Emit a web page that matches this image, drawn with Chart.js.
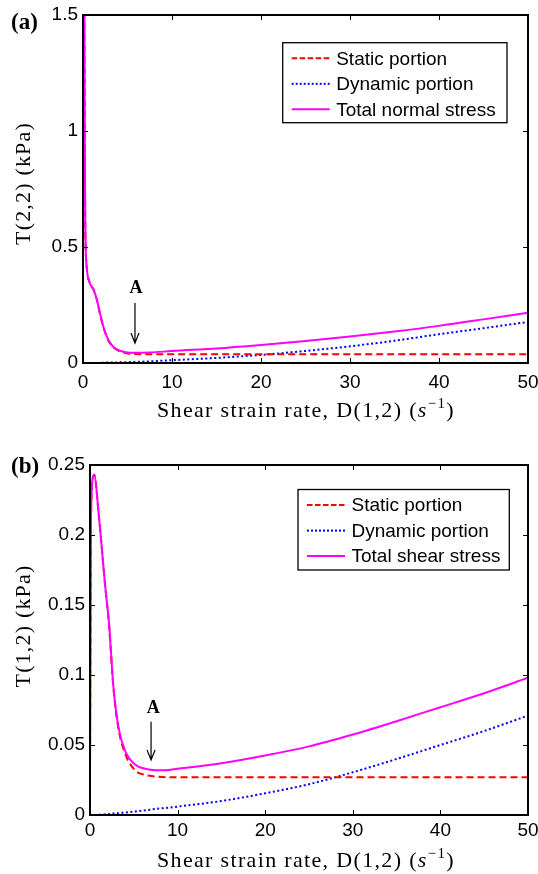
<!DOCTYPE html>
<html><head><meta charset="utf-8">
<script src="https://cdn.jsdelivr.net/npm/chart.js@4.4.0/dist/chart.umd.min.js"></script>
<style>
html,body{margin:0;padding:0;background:#fff;}
#wrap{position:relative;width:538px;height:874px;overflow:hidden;}
canvas{position:absolute;left:0;}
</style></head><body>
<div id="wrap">
<canvas id="ca" width="538" height="437" style="top:0px"></canvas>
<canvas id="cb" width="538" height="437" style="top:437px"></canvas>
</div>
<script>
// ---------- DATA ----------
// Panel (a): normal stress T(2,2) vs shear strain rate D(1,2)
const topX       = [0.1, 0.15, 0.2, 0.25, 0.3, 0.41, 0.71, 1.16, 1.54, 1.91, 2.28, 2.85, 3.4, 4.16, 5.3, 7.5, 10, 15, 20, 25, 30, 35, 40, 45, 50];
const topTotal   = [1.75, 1.5, 0.95, 0.62, 0.5, 0.415, 0.35, 0.318, 0.275, 0.214, 0.157, 0.099, 0.07, 0.053, 0.044, 0.045, 0.052, 0.063, 0.078, 0.095, 0.114, 0.136, 0.16, 0.188, 0.217];
const topStatic  = [1.75, 1.5, 0.95, 0.62, 0.5, 0.415, 0.35, 0.318, 0.275, 0.213, 0.156, 0.097, 0.068, 0.05, 0.04, 0.038, 0.038, 0.038, 0.038, 0.038, 0.038, 0.038, 0.038, 0.038, 0.038];
const topDynamic = [0, 0, 0, 0, 0, 0, 0, 0, 0, 0.001, 0.001, 0.002, 0.002, 0.003, 0.004, 0.007, 0.012, 0.022, 0.035, 0.052, 0.072, 0.096, 0.124, 0.15, 0.177];
const topYTicks  = [0, 0.5, 1, 1.5];
const topYLabels = ['0', '0.5', '1', '1.5'];

// Panel (b): shear stress T(1,2) vs shear strain rate D(1,2)
const botX       = [0, 0.05, 0.1, 0.2, 0.3, 0.49, 0.95, 1.33, 1.71, 2.17, 2.67, 3.24, 4.0, 5.14, 6.3, 7.5, 8.6, 10, 15, 20, 25, 30, 35, 40, 45, 50];
const botTotal   = [0.028, 0.12, 0.2, 0.232, 0.24, 0.243, 0.218, 0.192, 0.165, 0.137, 0.092, 0.063, 0.046, 0.036, 0.033, 0.032, 0.032, 0.033, 0.037, 0.0425, 0.049, 0.0575, 0.067, 0.077, 0.087, 0.098];
const botStatic  = [0.028, 0.12, 0.2, 0.232, 0.24, 0.243, 0.218, 0.192, 0.165, 0.136, 0.091, 0.062, 0.044, 0.032, 0.0286, 0.0275, 0.027, 0.027, 0.027, 0.027, 0.027, 0.027, 0.027, 0.027, 0.027, 0.027];
const botDynamic = [0, 0, 0, 0, 0, 0, 0.0002, 0.0003, 0.0005, 0.0007, 0.001, 0.0013, 0.0018, 0.0025, 0.0033, 0.0043, 0.005, 0.006, 0.01, 0.0155, 0.022, 0.0305, 0.04, 0.05, 0.06, 0.071];
const botYTicks  = [0, 0.05, 0.1, 0.15, 0.2, 0.25];
const botYLabels = ['0', '0.05', '0.1', '0.15', '0.2', '0.25'];

const xTicks  = [0, 10, 20, 30, 40, 50];
const xLabels = ['0', '10', '20', '30', '40', '50'];

const seriesNames = ['Static portion', 'Dynamic portion'];
const topTotalName = 'Total normal stress';
const botTotalName = 'Total shear stress';

// annotation "A": arrow (x, yFrom, yTo) and label (x, y) in data units
const topArrow = {x: 5.84, y1: 0.259, y2: 0.086, tx: 5.96, ty: 0.321};
const botArrow = {x: 6.97, y1: 0.0666, y2: 0.0393, tx: 7.23, ty: 0.0762};

// ---------- RENDERING ----------
const SANS = "'Liberation Sans', Arial, sans-serif";
const SERIF = "'Liberation Serif', 'Times New Roman', serif";
const RED = '#ff0000', BLUE = '#0000ff', MAG = '#ff00ff';

function pts(xs, ys) { return xs.map((x, i) => ({x: x, y: ys[i]})); }

function drawSpaced(ctx, pieces, cx, baseline, target) {
  ctx.letterSpacing = '0px';
  let w0 = 0, n = 0;
  pieces.forEach(p => { ctx.font = p.font; p.w = ctx.measureText(p.t).width; w0 += p.w; n += p.t.length; });
  const ls = Math.max(0, (target - w0) / n);
  let x = cx - (w0 + ls * n) / 2;
  ctx.textAlign = 'left';
  ctx.textBaseline = 'alphabetic';
  pieces.forEach(p => {
    ctx.font = p.font;
    ctx.letterSpacing = ls + 'px';
    ctx.fillText(p.t, x, baseline + (p.dy || 0));
    x += p.w + ls * p.t.length;
  });
  ctx.letterSpacing = '0px';
}

function makePanel(o) {
  const framePlugin = {
    id: 'frame' + o.id,
    afterDraw(chart) {
      const ctx = chart.ctx, a = chart.chartArea;
      const xs = chart.scales.x, ys = chart.scales.y;
      ctx.save();
      ctx.strokeStyle = '#000';
      ctx.lineWidth = 2;
      ctx.strokeRect(a.left, a.top, a.right - a.left, a.bottom - a.top);
      ctx.lineWidth = 1;
      ctx.beginPath();
      xTicks.forEach(v => {
        const px = Math.round(xs.getPixelForValue(v)) + 0.5;
        ctx.moveTo(px, a.bottom); ctx.lineTo(px, a.bottom - 5);
        ctx.moveTo(px, a.top); ctx.lineTo(px, a.top + 5);
      });
      o.yTicks.forEach(v => {
        const py = Math.round(ys.getPixelForValue(v)) + 0.5;
        ctx.moveTo(a.left, py); ctx.lineTo(a.left + 5, py);
        ctx.moveTo(a.right, py); ctx.lineTo(a.right - 5, py);
      });
      ctx.stroke();

      // legend
      const L = o.legend;
      ctx.fillStyle = '#fff';
      ctx.fillRect(L.left, L.top, L.right - L.left, L.bottom - L.top);
      ctx.lineWidth = 1.3;
      ctx.strokeStyle = '#000';
      ctx.strokeRect(L.left, L.top, L.right - L.left, L.bottom - L.top);
      const ds = chart.data.datasets;
      ctx.font = '19px ' + SANS;
      ctx.textBaseline = 'middle';
      ctx.textAlign = 'left';
      ds.forEach((d, i) => {
        const y = L.top + 15.6 + i * 25.5;
        ctx.beginPath();
        ctx.strokeStyle = d.borderColor;
        ctx.lineWidth = 2;
        ctx.setLineDash(d.legendDash);
        ctx.moveTo(L.left + 9, y); ctx.lineTo(L.left + 47, y);
        ctx.stroke();
        ctx.setLineDash([]);
        ctx.fillStyle = '#000';
        ctx.fillText(d.label, L.left + 53.5, y + 1);
      });

      // arrow and "A"
      const ar = o.arrow;
      const ax = xs.getPixelForValue(ar.x);
      const ay1 = ys.getPixelForValue(ar.y1), ay2 = ys.getPixelForValue(ar.y2);
      ctx.strokeStyle = '#000';
      ctx.lineWidth = 1.2;
      ctx.beginPath();
      ctx.moveTo(ax, ay1); ctx.lineTo(ax, ay2);
      ctx.moveTo(ax - 4, ay2 - 10); ctx.lineTo(ax, ay2); ctx.lineTo(ax + 4, ay2 - 10);
      ctx.stroke();
      ctx.fillStyle = '#000';
      ctx.font = 'bold 18px ' + SERIF;
      ctx.textAlign = 'center';
      ctx.textBaseline = 'middle';
      ctx.fillText('A', xs.getPixelForValue(ar.tx), ys.getPixelForValue(ar.ty));

      // panel label
      ctx.font = 'bold 23px ' + SERIF;
      ctx.textAlign = 'left';
      ctx.textBaseline = 'middle';
      ctx.fillText(o.panel, 11, o.panelY);

      // y title (rotated)
      ctx.save();
      ctx.translate(o.yTitleX, o.yTitleY);
      ctx.rotate(-Math.PI / 2);
      drawSpaced(ctx, [{t: o.yTitle, font: '22px ' + SERIF}], 0, 7, 123);
      ctx.restore();

      // x title with superscript
      drawSpaced(ctx, [
        {t: 'Shear strain rate, D(1,2) (', font: '22px ' + SERIF},
        {t: 's', font: 'italic 22px ' + SERIF},
        {t: '\u22121', font: '15px ' + SERIF, dy: -9},
        {t: ')', font: '22px ' + SERIF}
      ], 306, a.bottom + o.xTitleOff, 298);

      ctx.restore();
    }
  };

  const yT = o.yTicks, yL = o.yLabels;
  return new Chart(document.getElementById(o.id), {
    type: 'line',
    data: {
      datasets: [
        {label: seriesNames[0], data: pts(o.xs, o.stat), borderColor: RED, borderDash: [7, 4], legendDash: [5.5, 2.5], order: 2},
        {label: seriesNames[1], data: pts(o.xs, o.dyn), borderColor: BLUE, borderDash: [2, 2.5], legendDash: [2, 2], order: 3},
        {label: o.totalName, data: pts(o.xs, o.tot), borderColor: MAG, borderDash: [], legendDash: [], order: 1}
      ].map(d => Object.assign(d, {borderWidth: 2, pointRadius: 0, fill: false, cubicInterpolationMode: 'monotone', borderCapStyle: 'butt'}))
    },
    options: {
      responsive: false,
      animation: false,
      devicePixelRatio: 1,
      layout: {padding: {left: 0, top: o.padTop, right: 10, bottom: 0}},
      plugins: {legend: {display: false}, tooltip: {enabled: false}, title: {display: false}},
      scales: {
        x: {
          type: 'linear', min: 0, max: 50,
          afterBuildTicks: s => { s.ticks = xTicks.map(v => ({value: v})); },
          afterFit: s => { s.height = o.xAxisH; s.paddingLeft = 0; s.paddingRight = 0; },
          grid: {display: false, drawTicks: false},
          border: {display: false},
          ticks: {color: '#000', font: {family: SANS, size: 19}, padding: o.xTickPad, maxRotation: 0, autoSkip: false,
            callback: (v) => xLabels[xTicks.indexOf(v)]}
        },
        y: {
          type: 'linear', min: 0, max: o.yMax,
          afterBuildTicks: s => { s.ticks = yT.map(v => ({value: v})); },
          afterFit: s => { s.width = o.yAxisW; s.paddingTop = 0; s.paddingBottom = 0; },
          grid: {display: false, drawTicks: false},
          border: {display: false},
          ticks: {color: '#000', font: {family: SANS, size: 19}, padding: 5, autoSkip: false,
            callback: (v) => { const k = yT.findIndex(t => Math.abs(t - v) < 1e-9); return k >= 0 ? yL[k] : ''; }}
        }
      }
    },
    plugins: [framePlugin]
  });
}

makePanel({
  id: 'ca', xs: topX, stat: topStatic, dyn: topDynamic, tot: topTotal, totalName: topTotalName,
  yTicks: topYTicks, yLabels: topYLabels, yMax: 1.5,
  padTop: 15, xAxisH: 74, yAxisW: 83, xTickPad: 8,
  legend: {left: 282.7, top: 42.7, right: 507, bottom: 122.7},
  arrow: topArrow, panel: '(a)', panelY: 23,
  yTitle: 'T(2,2) (kPa)', yTitleX: 23, yTitleY: 183.5, xTitleOff: 54
});
makePanel({
  id: 'cb', xs: botX, stat: botStatic, dyn: botDynamic, tot: botTotal, totalName: botTotalName,
  yTicks: botYTicks, yLabels: botYLabels, yMax: 0.25,
  padTop: 28, xAxisH: 59, yAxisW: 90, xTickPad: 4,
  legend: {left: 298, top: 52.5, right: 509.3, bottom: 133},
  arrow: botArrow, panel: '(b)', panelY: 30,
  yTitle: 'T(1,2) (kPa)', yTitleX: 23, yTitleY: 189, xTitleOff: 51.7
});
</script>
</body></html>
